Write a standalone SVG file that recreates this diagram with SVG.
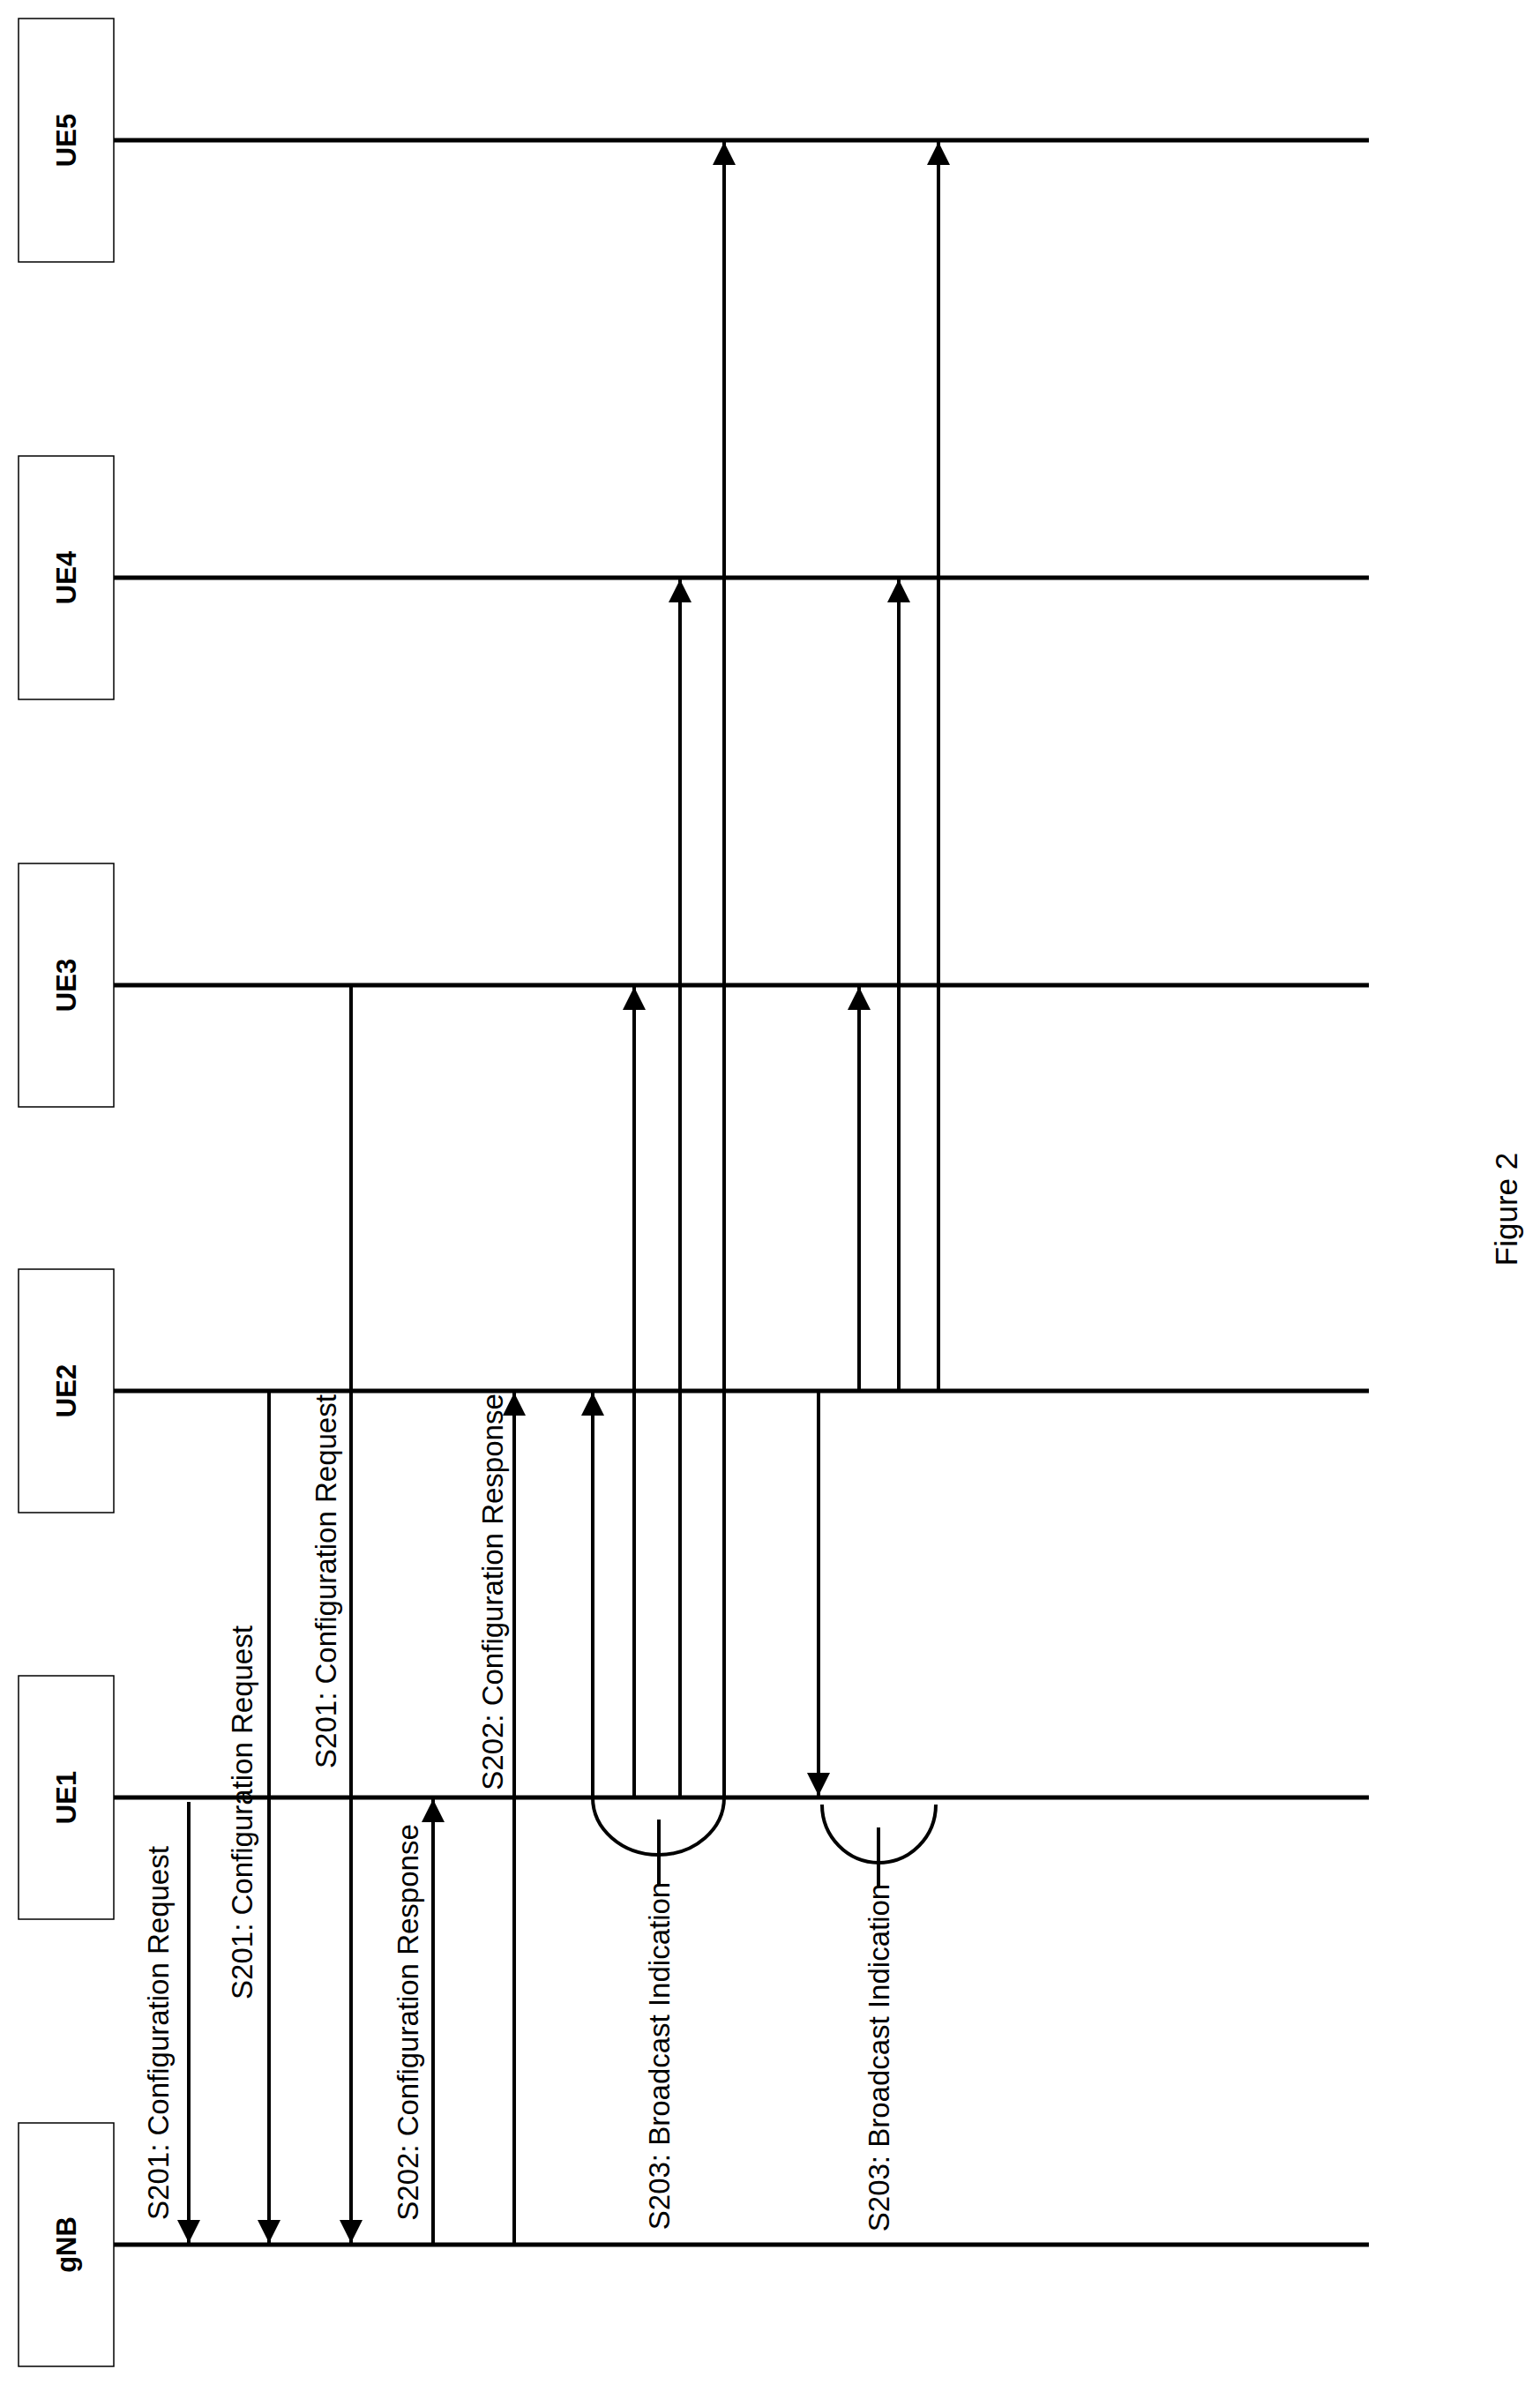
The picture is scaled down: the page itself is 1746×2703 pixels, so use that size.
<svg xmlns="http://www.w3.org/2000/svg" width="1746" height="2703" viewBox="0 0 1746 2703">
<style>
.box{fill:#fff;stroke:#000;stroke-width:1.5}
.life{stroke:#000;stroke-width:5}
.msg{stroke:#000;stroke-width:4;fill:none}
.nm{font-family:"Liberation Sans",Arial,sans-serif;font-weight:bold;font-size:31px;text-anchor:middle;dominant-baseline:central}
.lb{font-family:"Liberation Sans",Arial,sans-serif;font-size:33px;text-anchor:middle;dominant-baseline:central}
</style>
<defs>
<marker id="ah" viewBox="0 0 10 10" refX="10" refY="5" markerWidth="7" markerHeight="6.5" markerUnits="strokeWidth" orient="auto"><path d="M0,0 L10,5 L0,10 z" fill="#000"/></marker>
</defs>
<g id="UE5"><rect class="box" x="21" y="21" width="108" height="276"/><text class="nm" transform="translate(75,159) rotate(-90)">UE5</text><line class="life" x1="129" y1="159" x2="1552" y2="159"/></g>
<g id="UE4"><rect class="box" x="21" y="517" width="108" height="276"/><text class="nm" transform="translate(75,655) rotate(-90)">UE4</text><line class="life" x1="129" y1="655" x2="1552" y2="655"/></g>
<g id="UE3"><rect class="box" x="21" y="979" width="108" height="276"/><text class="nm" transform="translate(75,1117) rotate(-90)">UE3</text><line class="life" x1="129" y1="1117" x2="1552" y2="1117"/></g>
<g id="UE2"><rect class="box" x="21" y="1439" width="108" height="276"/><text class="nm" transform="translate(75,1577) rotate(-90)">UE2</text><line class="life" x1="129" y1="1577" x2="1552" y2="1577"/></g>
<g id="UE1"><rect class="box" x="21" y="1900" width="108" height="276"/><text class="nm" transform="translate(75,2038) rotate(-90)">UE1</text><line class="life" x1="129" y1="2038" x2="1552" y2="2038"/></g>
<g id="gNB"><rect class="box" x="21" y="2407" width="108" height="276"/><text class="nm" transform="translate(75,2545) rotate(-90)">gNB</text><line class="life" x1="129" y1="2545" x2="1552" y2="2545"/></g>
<g id="connectors">
<line class="msg" x1="214" y1="2043" x2="214" y2="2543" marker-end="url(#ah)"/>
<line class="msg" x1="305" y1="1577" x2="305" y2="2543" marker-end="url(#ah)"/>
<line class="msg" x1="398" y1="1117" x2="398" y2="2543" marker-end="url(#ah)"/>
<line class="msg" x1="491" y1="2545" x2="491" y2="2040" marker-end="url(#ah)"/>
<line class="msg" x1="583" y1="2545" x2="583" y2="1579" marker-end="url(#ah)"/>
<path class="msg" d="M672,2038 A74.5,65 0 0 0 821,2038"/>
<line class="msg" x1="747" y1="2063" x2="747" y2="2138"/>
<line class="msg" x1="672" y1="2038" x2="672" y2="1579" marker-end="url(#ah)"/>
<line class="msg" x1="719" y1="2038" x2="719" y2="1119" marker-end="url(#ah)"/>
<line class="msg" x1="771" y1="2038" x2="771" y2="657" marker-end="url(#ah)"/>
<line class="msg" x1="821" y1="2038" x2="821" y2="161" marker-end="url(#ah)"/>
<line class="msg" x1="928" y1="1577" x2="928" y2="2036" marker-end="url(#ah)"/>
<path class="msg" d="M932,2046 A64.5,66 0 0 0 1061,2046"/>
<line class="msg" x1="996" y1="2072" x2="996" y2="2140"/>
<line class="msg" x1="974" y1="1577" x2="974" y2="1119" marker-end="url(#ah)"/>
<line class="msg" x1="1019" y1="1577" x2="1019" y2="657" marker-end="url(#ah)"/>
<line class="msg" x1="1064" y1="1577" x2="1064" y2="161" marker-end="url(#ah)"/>
</g>
<g id="labels">
<text class="lb" transform="translate(179,2305) rotate(-90)">S201: Configuration Request</text>
<text class="lb" transform="translate(274,2055) rotate(-90)">S201: Configuration Request</text>
<text class="lb" transform="translate(369,1793) rotate(-90)">S201: Configuration Request</text>
<text class="lb" transform="translate(462,2293) rotate(-90)">S202: Configuration Response</text>
<text class="lb" transform="translate(558,1805) rotate(-90)">S202: Configuration Response</text>
<text class="lb" transform="translate(747,2331) rotate(-90)">S203: Broadcast Indication</text>
<text class="lb" transform="translate(996,2333) rotate(-90)">S203: Broadcast Indication</text>
<text class="lb" style="font-size:35px" transform="translate(1707,1371) rotate(-90)">Figure 2</text>
</g>
</svg>
